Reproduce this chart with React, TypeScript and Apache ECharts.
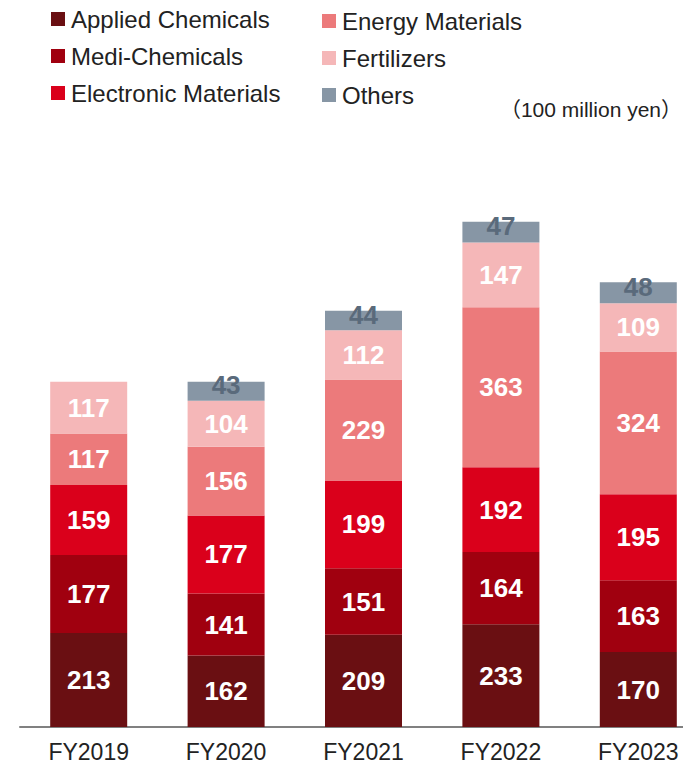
import React, { useEffect, useRef } from "react";
import * as echarts from "echarts";

const categories = ["FY2019", "FY2020", "FY2021", "FY2022", "FY2023"];
const appliedChemicals = [213, 162, 209, 233, 170];
const mediChemicals = [177, 141, 151, 164, 163];
const electronicMaterials = [159, 177, 199, 192, 195];
const energyMaterials = [117, 156, 229, 363, 324];
const fertilizers = [117, 104, 112, 147, 109];
const others: (number | null)[] = [null, 43, 44, 47, 48];

const seriesNames = [
  "Applied Chemicals",
  "Medi-Chemicals",
  "Electronic Materials",
  "Energy Materials",
  "Fertilizers",
  "Others",
];
const seriesColors = ["#6a0f12", "#a0000f", "#da001b", "#ec7a7b", "#f5b7b8", "#8796a5"];
const unitText = "（100 million yen）";

const FONT = "'Liberation Sans', Arial, Helvetica, sans-serif";

export default function App() {
  const ref = useRef<HTMLDivElement>(null);
  useEffect(() => {
    if (!ref.current) return;
    const chart = echarts.init(ref.current, undefined, { renderer: "svg" });
    const dataSets = [appliedChemicals, mediChemicals, electronicMaterials, energyMaterials, fertilizers, others];
    const series = dataSets.map((d, i) => ({
      name: seriesNames[i],
      type: "bar",
      stack: "total",
      barWidth: 77,
      data: d,
      itemStyle: { color: seriesColors[i] },
      label: {
        show: true,
        position: "inside",
        offset: i === 5 ? [0, -6] : [0, 0],
        color: i === 5 ? "#5a6a7b" : "#ffffff",
        fontSize: 26,
        fontWeight: "bold",
        fontFamily: FONT,
      },
    }));
    const legendCommon = {
      orient: "vertical",
      icon: "rect",
      itemWidth: 14,
      itemHeight: 14,
      itemGap: 13,
      padding: 0,
      textStyle: { fontSize: 24, color: "#222", fontFamily: FONT, lineHeight: 24, padding: [0, 0, 0, 1] },
    };
    chart.setOption({
      animation: false,
      textStyle: { fontFamily: FONT },
      legend: [
        { ...legendCommon, left: 51, top: 7, data: seriesNames.slice(0, 3) },
        { ...legendCommon, left: 322, top: 9, data: seriesNames.slice(3) },
      ],
      graphic: [
        {
          type: "text",
          right: 25,
          top: 99,
          style: { text: unitText, fontSize: 21, fill: "#222", fontFamily: "'Liberation Sans', Arial, 'Noto Sans CJK JP', sans-serif" },
        },
      ],
      grid: { left: 20, right: 0, top: 198, bottom: 41 },
      xAxis: {
        type: "category",
        data: categories,
        axisLine: { lineStyle: { color: "#808080", width: 2 } },
        axisTick: { show: false },
        axisLabel: { fontSize: 23, color: "#222", margin: 13, fontFamily: FONT },
      },
      yAxis: { type: "value", min: 0, max: 1200, show: false, splitLine: { show: false } },
      series,
    });
    return () => chart.dispose();
  }, []);
  return (
    <div style={{ position: "absolute", left: 0, top: 0, width: 683, height: 768, overflow: "hidden" }}>
      <div ref={ref} style={{ width: 707, height: 768 }} />
    </div>
  );
}
